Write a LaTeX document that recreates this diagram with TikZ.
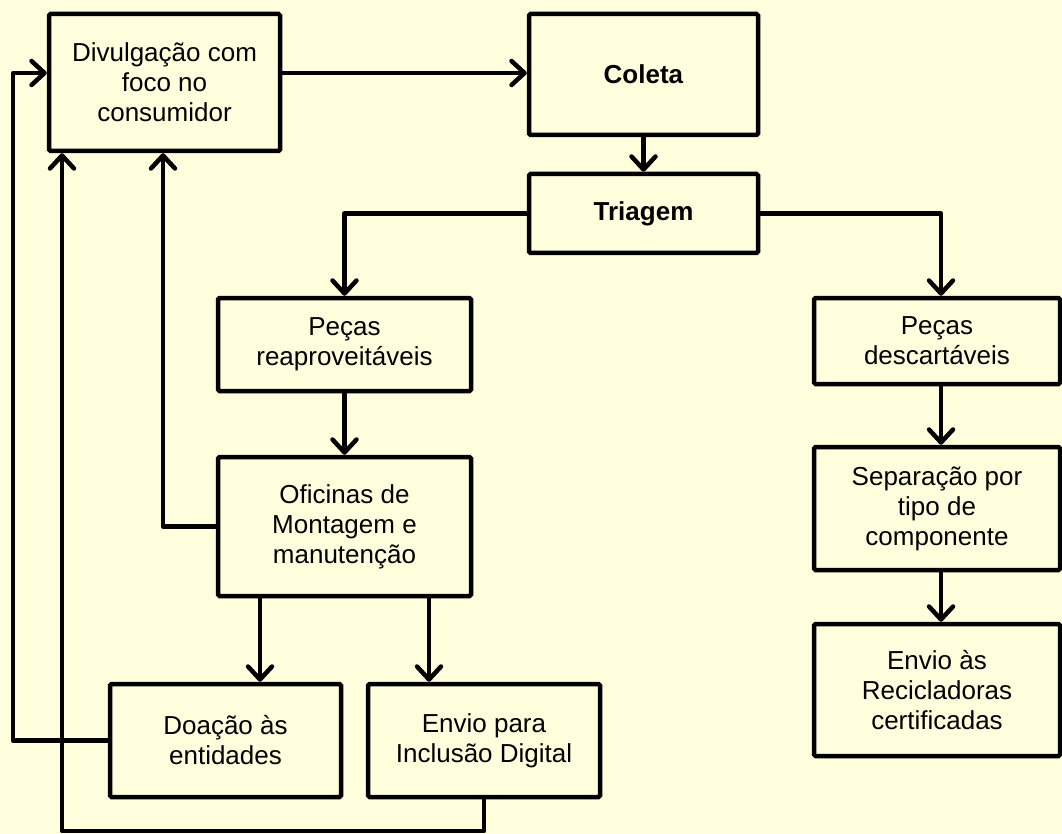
\documentclass[tikz,border=0pt]{standalone}
\usepackage{fontspec}
\setmainfont{Liberation Sans}
\usetikzlibrary{arrows.meta,shadows}
\definecolor{bgc}{RGB}{255,255,222}
\begin{document}
\begin{tikzpicture}[x=1pt,y=-1pt,
  box/.style={draw=black,line width=4.5pt,fill=bgc,rounded corners=1.5pt,align=center,
    inner sep=2pt,font=\fontsize{26}{30}\selectfont,
    drop shadow={shadow xshift=2pt,shadow yshift=-2pt,opacity=0.18}},
  conn/.style={line width=4.5pt,line join=round},
  arr/.style={conn,-{Straight Barb[length=13pt,width=24pt,line join=round,line cap=round]}}]
\fill[bgc] (0,0) rectangle (1062,834);
\useasboundingbox (0,0) rectangle (1062,834);

\node[box,minimum width=231pt,minimum height=137pt] (div) at (164.5,82.5) {Divulgação com\\foco no\\consumidor};
\node[box,minimum width=229pt,minimum height=121pt] (col) at (643.5,74.5) {\textbf{Coleta}};
\node[box,minimum width=229pt,minimum height=79pt] (tri) at (643.5,213.5) {\textbf{Triagem}};
\node[box,minimum width=253pt,minimum height=93pt] (reap) at (344.5,344.5) {Peças\\reaproveitáveis};
\node[box,minimum width=253pt,minimum height=139pt] (ofi) at (344.5,526.5) {Oficinas de\\Montagem e\\manutenção};
\node[box,minimum width=231pt,minimum height=113pt] (doa) at (225.5,740.5) {Doação às\\entidades};
\node[box,minimum width=232pt,minimum height=113pt] (inc) at (484,740.5) {Envio para\\Inclusão Digital};
\node[box,minimum width=246pt,minimum height=86pt] (desc) at (937,341) {Peças\\descartáveis};
\node[box,minimum width=246pt,minimum height=123pt] (sep) at (937,508.5) {Separação por\\tipo de\\componente};
\node[box,minimum width=246pt,minimum height=132pt] (env) at (937,690) {Envio às\\Recicladoras\\certificadas};

\coordinate (ytop) at (0,73);
\coordinate (xa) at (62,0);
\coordinate (xb) at (163,0);
\coordinate (xl) at (13,0);
\coordinate (xd) at (260,0);
\coordinate (xi) at (429,0);
\coordinate (xr) at (941,0);
\coordinate (ybot) at (0,831);

\draw[arr] (div.east |- ytop) -- (col.west |- ytop);
\draw[arr] (col.south) -- (tri.north);
\draw[arr] (tri.west) -| (reap.north);
\draw[arr] (tri.east) -| (xr |- desc.north);
\draw[arr] (reap.south) -- (ofi.north);
\draw[arr] (desc.south -| xr) -- (sep.north -| xr);
\draw[arr] (sep.south -| xr) -- (env.north -| xr);
\draw[arr] (ofi.south -| xd) -- (doa.north -| xd);
\draw[arr] (ofi.south -| xi) -- (inc.north -| xi);
\draw[arr] (ofi.west) -| (xb |- div.south);
\draw[arr] (doa.west) -| (xl |- ytop) -- (div.west |- ytop);
\draw[arr] (inc.south) -- (inc.south |- ybot) -| (xa |- div.south);
\end{tikzpicture}
\end{document}
